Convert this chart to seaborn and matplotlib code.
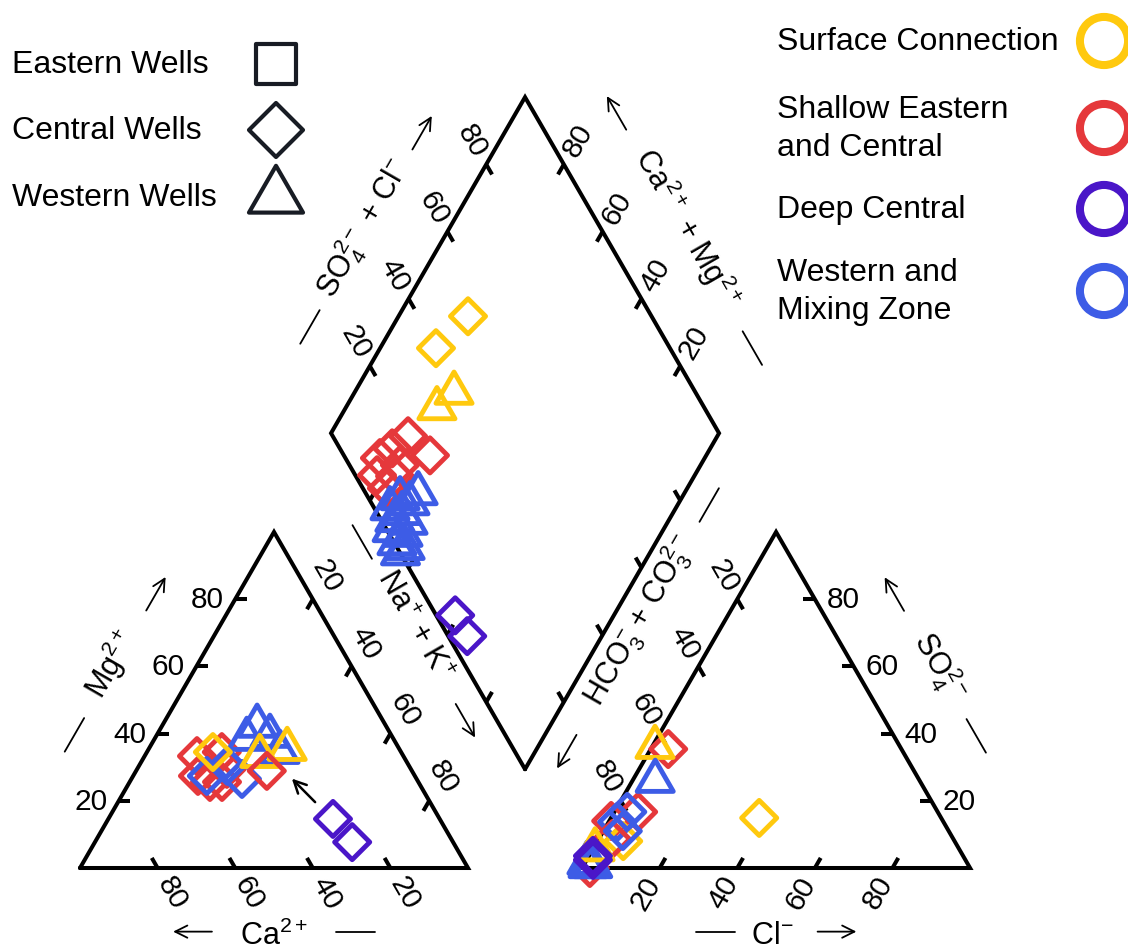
import numpy as np
import pandas as pd
import matplotlib
matplotlib.use("Agg")
import matplotlib.pyplot as plt
from matplotlib.path import Path
import seaborn as sns

sns.set_style("white")
plt.rcParams["font.family"] = ["Liberation Sans", "DejaVu Sans"]
plt.rcParams["text.color"] = "black"
plt.rcParams["mathtext.fontset"] = "custom"
plt.rcParams["mathtext.rm"] = "Liberation Sans"
plt.rcParams["mathtext.it"] = "Liberation Sans:italic"
plt.rcParams["mathtext.default"] = "rm"

# GROUPS AND COLOURS
group_names = ["Surface Connection", "Shallow Eastern\nand Central", "Deep Central", "Western and\nMixing Zone"]
group_keys = ["surface", "shallow", "deep", "western"]
group_colors = ["#FFC90E", "#E5383B", "#4A16C8", "#3D5CE6"]
well_names = ["Eastern Wells", "Central Wells", "Western Wells"]

# CATION TRIANGLE (% meq): Ca, Mg (Na+K is the rest)
cat_group = ["shallow"] * 6 + ["western"] * 7 + ["surface"] * 3 + ["shallow"] + ["deep"] * 2
cat_well = ["C"] * 6 + ["C"] * 3 + ["W"] * 4 + ["W", "W", "C"] + ["C"] + ["C", "C"]
cat_ca = [53.2, 55.9, 53.7, 46.2, 50.6, 47.4, 45.0, 53.6, 46.9, 33.2, 31.4, 37.8, 31.2, 28.9, 37.0, 48.5, 37.4, 27.5, 26.0]
cat_mg = [33.3, 27.4, 25.6, 34.5, 25.6, 29.5, 26.5, 27.4, 30.4, 42.3, 39.3, 38.4, 34.5, 35.4, 33.3, 34.5, 28.9, 14.6, 7.7]

# ANION TRIANGLE (% meq): Cl, SO4 (HCO3+CO3 is the rest)
an_group = ["shallow", "western", "western", "western", "shallow", "shallow", "shallow", "western",
            "surface", "surface", "surface", "shallow", "surface", "deep", "deep", "western", "western", "western"]
an_well = ["C", "W", "W", "W", "C", "C", "C", "C", "W", "C", "C", "C", "W", "C", "C", "C", "C", "W"]
an_cl = [2.0, 1.3, 0.5, 2.5, 4.5, 6.1, 0.5, 2.2, 0.8, 38.2, 6.6, 3.4, 0.6, 1.0, 1.6, 3.3, 5.0, 5.9]
an_so4 = [0.0, 0.5, 1.5, 0.5, 35.4, 16.7, 14.0, 13.7, 36.0, 14.9, 8.0, 8.6, 5.5, 3.6, 2.4, 16.7, 11.0, 25.9]

# DIAMOND (% meq): Ca+Mg, SO4+Cl
dia_group = ["surface"] * 4 + ["shallow"] * 8 + ["western"] * 12 + ["deep"] * 2
dia_well = ["C", "C", "W", "W"] + ["C"] * 8 + ["W"] * 12 + ["C", "C"]
dia_camg = [82.1, 85.6, 76.4, 74.3, 79.7, 71.2, 82.0, 77.5, 81.9, 77.4, 83.7, 77.1,
            68.6, 72.5, 69.2, 73.6, 69.8, 70.6, 66.8, 69.8, 66.3, 66.6, 63.8, 64.2, 40.9, 34.7]
dia_so4cl = [52.7, 39.7, 31.0, 37.7, 19.4, 22.2, 13.5, 13.0, 5.6, 6.2, 8.9, 10.1,
             13.5, 8.1, 9.9, 4.0, 6.4, 3.5, 6.5, 1.3, 3.4, 0.6, 2.0, 0.0, 4.9, 4.9]

# arrow in the cation triangle (Ca, Mg) from -> to
arrow_from = (29.6, 19.6)
arrow_to = (32.1, 26.6)

# GEOMETRY
H = np.sqrt(3) / 2
GAP = 29.4
OX = 100 + GAP
PX = 3.88  # pixels per percent
W_PX, H_PX = 1128, 953
ORIGIN = (80, 869)
B = np.array([100 + GAP / 2, GAP * H])
U = np.array([-0.5, H])
V = np.array([0.5, H])


def cation_xy(ca, mg):
    ca, mg = np.asarray(ca, float), np.asarray(mg, float)
    na = 100 - ca - mg
    return na + mg / 2, mg * H


def anion_xy(cl, so4):
    cl, so4 = np.asarray(cl, float), np.asarray(so4, float)
    return OX + cl + so4 / 2, so4 * H


def diamond_xy(camg, so4cl):
    camg, so4cl = np.asarray(camg, float), np.asarray(so4cl, float)
    p = B[:, None] + np.outer(U, camg) + np.outer(V, so4cl)
    return p[0], p[1]


fig = plt.figure(figsize=(W_PX / 100, H_PX / 100), dpi=100)
ax = fig.add_axes([0, 0, 1, 1])
ax.set_xlim(-ORIGIN[0] / PX, (W_PX - ORIGIN[0]) / PX)
ax.set_ylim((ORIGIN[1] - H_PX) / PX, ORIGIN[1] / PX)
ax.axis("off")

LW = 2.9
L_TRI = np.array([[0, 0], [100, 0], [50, 100 * H], [0, 0]])
R_TRI = L_TRI + [OX, 0]
DIA = np.array([B, B + 100 * U, B + 100 * (U + V), B + 100 * V, B])
for shape in (L_TRI, R_TRI, DIA):
    ax.plot(shape[:, 0], shape[:, 1], color="k", lw=LW, solid_joinstyle="miter", zorder=2)


def ticks(p0, p1, inward, labels=None, rot=0):
    p0, p1, inward = np.asarray(p0, float), np.asarray(p1, float), np.asarray(inward, float)
    for i, t in enumerate([20, 40, 60, 80]):
        p = p0 + (p1 - p0) * t / 100
        q = p + inward * 3.0
        ax.plot([p[0], q[0]], [p[1], q[1]], color="k", lw=LW, solid_capstyle="butt", zorder=2)
        if labels is not None:
            r = p - inward * 7.2
            ax.text(r[0], r[1], labels[i], rotation=rot, rotation_mode="anchor",
                    ha="center", va="center", fontsize=21.5)


up = ["20", "40", "60", "80"]
down = ["80", "60", "40", "20"]
T_L = L_TRI[2]
T_R = R_TRI[2]
D_L, D_T, D_R = DIA[1], DIA[2], DIA[3]
ticks(L_TRI[0], L_TRI[1], (-0.5, H), down, -60)
ticks(L_TRI[0], T_L, (1, 0), up, 0)
ticks(T_L, L_TRI[1], (-0.5, -H), up, -60)
ticks(R_TRI[0], R_TRI[1], (0.5, H), up, 60)
ticks(R_TRI[1], T_R, (-1, 0), up, 0)
ticks(T_R, R_TRI[0], (0.5, -H), up, -60)
ticks(D_L, D_T, (0.5, -H), up, -60)
ticks(D_T, D_R, (-0.5, -H), down, 60)
ticks(B, D_L, (0.5, H))
ticks(B, D_R, (-0.5, H))


def title(p0, p1, normal, text, rot, shift, dash_at, arrow_at, arrow_dir, off=19.3):
    p0, p1, n = np.asarray(p0, float), np.asarray(p1, float), np.asarray(normal, float)
    a = (p1 - p0) / np.linalg.norm(p1 - p0)
    m = (p0 + p1) / 2
    c = m + a * shift + n * off
    ax.text(c[0], c[1], text, rotation=rot, rotation_mode="anchor",
            ha="center", va="center", fontsize=22)
    d = m + a * dash_at + n * (off - 0.9)
    ax.plot([d[0] - a[0] * 5, d[0] + a[0] * 5], [d[1] - a[1] * 5, d[1] + a[1] * 5], color="k", lw=1.3)
    s = m + a * arrow_at + n * (off - 0.9)
    ax.annotate("", xy=s + a * 5 * arrow_dir, xytext=s - a * 5 * arrow_dir,
                arrowprops=dict(arrowstyle="->", lw=1.3, color="k", mutation_scale=22,
                                shrinkA=0, shrinkB=0))


title(L_TRI[0], T_L, (-H, 0.5), r"Mg$^{2+}$", 60, -0.4, -21, 21, 1)
title(L_TRI[0], L_TRI[1], (0, -1), r"Ca$^{2+}$", 0, 0, 21, -21, -1, off=17.3)
title(T_L, L_TRI[1], (H, 0.5), r"Na$^{+}$ + K$^{+}$", -60, -11.4, -36.4, 16.8, 1)
title(R_TRI[0], T_R, (-H, 0.5), r"HCO$_3^{-}$ + CO$_3^{2-}$", 60, 12.8, 47.4, -26, -1)
title(T_R, R_TRI[1], (H, 0.5), r"SO$_4^{2-}$", -60, 1, 21.3, -20.9, -1)
title(R_TRI[0], R_TRI[1], (0, -1), r"Cl$^{-}$", 0, -1, -15.7, 15.7, 1, off=17.3)
title(D_L, D_T, (-H, 0.5), r"SO$_4^{2-}$ + Cl$^{-}$", 60, 0.2, -29, 28.8, 1)
title(D_T, D_R, (H, 0.5), r"Ca$^{2+}$ + Mg$^{2+}$", -60, 0, 35.3, -34.7, -1)

# DATA POINTS
cx, cy = cation_xy(cat_ca, cat_mg)
axx, ayy = anion_xy(an_cl, an_so4)
dx, dy = diamond_xy(dia_camg, dia_so4cl)
points = pd.concat([
    pd.DataFrame({"x": cx, "y": cy, "group": cat_group, "well": cat_well}),
    pd.DataFrame({"x": axx, "y": ayy, "group": an_group, "well": an_well}),
    pd.DataFrame({"x": dx, "y": dy, "group": dia_group, "well": dia_well}),
], ignore_index=True)

diamond_path = Path([(0, 1), (1, 0), (0, -1), (-1, 0), (0, 1)], closed=True)
triangle_path = Path([(0, 1), (-H, -0.5), (H, -0.5), (0, 1)], closed=True)
palette = dict(zip(group_keys, group_colors))
sns.scatterplot(data=points, x="x", y="y", hue="group", palette=palette,
                style="well", markers={"C": diamond_path, "W": triangle_path},
                size="well", sizes={"C": 640, "W": 900},
                linewidth=3.5, legend=False, ax=ax, zorder=5)
for coll in ax.collections:
    fc = coll.get_facecolors()
    coll.set_edgecolors(fc)
    coll.set_facecolors("none")

# arrow from deep central toward the mixing cluster
a0 = cation_xy(*arrow_from)
a1 = cation_xy(*arrow_to)
ax.annotate("", xy=a1, xytext=a0,
            arrowprops=dict(arrowstyle="->", lw=1.8, color="k", mutation_scale=22, shrinkA=0, shrinkB=0))


# LEGENDS (pixel positions of the original layout)
def fxy(x, y):
    return x / W_PX, 1 - y / H_PX


ink = "#181c24"
well_y = [65, 131, 198]
well_marker = ["s", diamond_path, triangle_path]
well_size = [870, 1512, 2016]
for name, y, mk, sz in zip(well_names, well_y, well_marker, well_size):
    ax.text(*fxy(12, y), name, transform=ax.transAxes, ha="left", va="center", fontsize=23)
    ax.scatter(*fxy(276, y), marker=mk, s=sz, facecolors="none", edgecolors=ink,
               linewidths=3.0, transform=ax.transAxes, clip_on=False)

group_y = [42, 129, 210, 292]
for name, y, col in zip(group_names, group_y, group_colors):
    ax.text(*fxy(777, y), name, transform=ax.transAxes, ha="left", va="center",
            fontsize=23, linespacing=1.32)
    ax.scatter(*fxy(1104, y), marker="o", s=1200, facecolors="none", edgecolors=col,
               linewidths=5.8, transform=ax.transAxes, clip_on=False)

fig.savefig("out.png", dpi=100, facecolor="white")
